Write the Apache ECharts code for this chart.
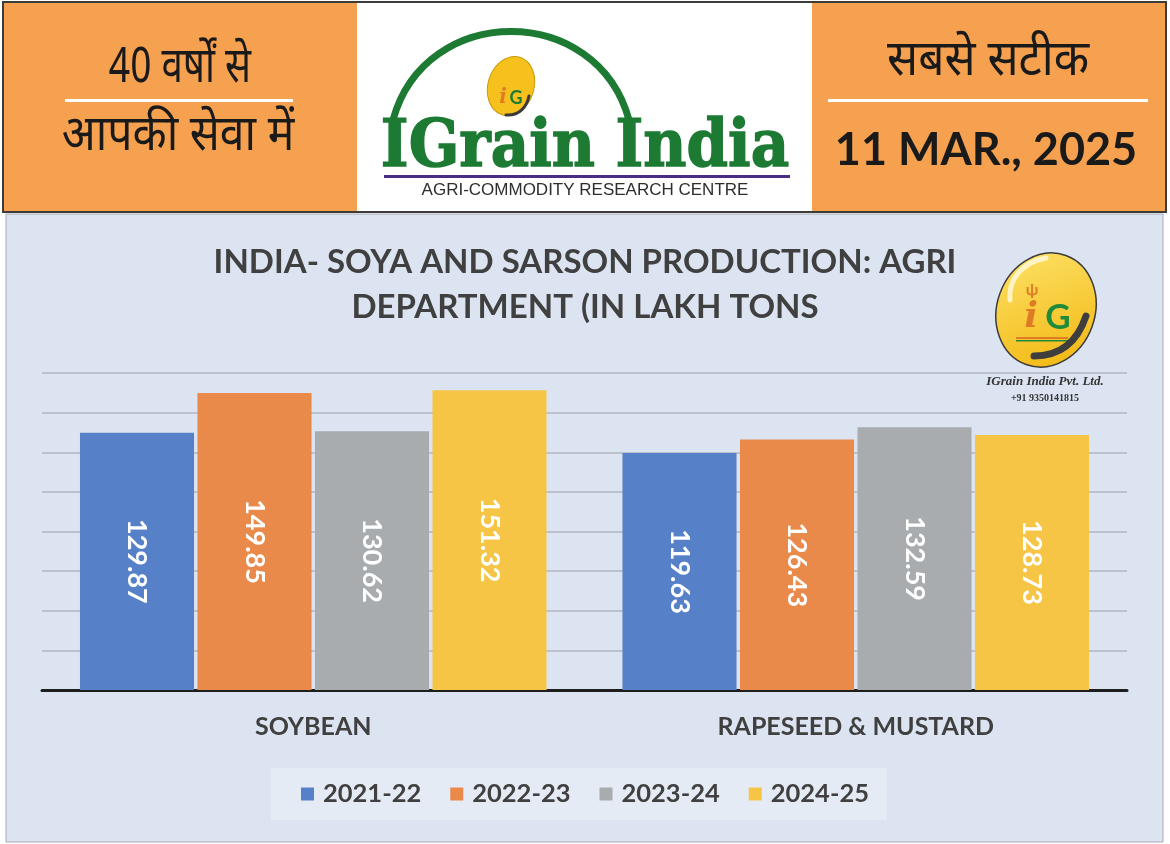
<!DOCTYPE html>
<html>
<head>
<meta charset="utf-8">
<title>India Soya and Sarson Production</title>
<script src="https://cdn.jsdelivr.net/npm/echarts@6/dist/echarts.min.js"></script>
<style>
html, body { margin: 0; padding: 0; background: #fff; }
#chart { width: 1170px; height: 844px; }
</style>
</head>
<body>
<div id="chart"></div>
<script>
// values in lakh tons
const crops = ['SOYBEAN', 'RAPESEED & MUSTARD'];
const seasons = ['2021-22', '2022-23', '2023-24', '2024-25'];
const prod2122 = [129.87, 119.63];
const prod2223 = [149.85, 126.43];
const prod2324 = [130.62, 132.59];
const prod2425 = [151.32, 128.73];
const yMin = 0;
const yMax = 160;
const yStep = 20;

const seasonColors = ['#5680c8', '#ea8a4a', '#a9acaf', '#f7c545'];
const latin = 'Lato, "Open Sans", sans-serif';
const hindi = '"Noto Sans Devanagari", "Lohit Devanagari", "Noto Sans", sans-serif';
const orange = '#f5a14f';

function txt(text, x, y, size, opts) {
    opts = opts || {};
    return {
        type: 'text',
        x: x, y: y, z: 20,
        scaleX: opts.sx || 1,
        style: {
            text: text,
            fontSize: size,
            fontFamily: opts.family || latin,
            fontWeight: opts.weight || 'normal',
            fontStyle: opts.italic ? 'italic' : 'normal',
            fill: opts.color || '#1a1a1a',
            textAlign: opts.align || 'center',
            textVerticalAlign: 'middle'
        }
    };
}

const header = [
    { type: 'rect', z: 1, shape: { x: 3, y: 2, width: 1163, height: 210 },
      style: { fill: '#fff', stroke: '#3c3c3c', lineWidth: 2 } },
    { type: 'rect', z: 2, shape: { x: 4, y: 3, width: 353, height: 208 }, style: { fill: orange } },
    { type: 'rect', z: 2, shape: { x: 812, y: 3, width: 353, height: 208 }, style: { fill: orange } },
    { type: 'rect', z: 3, shape: { x: 65, y: 99, width: 228, height: 3 }, style: { fill: '#fff' } },
    { type: 'rect', z: 3, shape: { x: 828, y: 99, width: 320, height: 3 }, style: { fill: '#fff' } },
    txt('40 वर्षों से', 180, 73, 50, { family: hindi, sx: 0.77 }),
    txt('आपकी सेवा में', 178, 141, 50, { family: hindi, sx: 0.89 }),
    txt('सबसे सटीक', 988, 66, 50, { family: hindi, sx: 0.92 }),
    txt('11 MAR., 2025', 986, 150, 45, { weight: 'bold' }),

    // centre logo
    { type: 'bezierCurve', z: 4,
      shape: { x1: 393, y1: 120, x2: 629, y2: 120, cpx1: 425, cpy1: 2, cpx2: 597, cpy2: 2 },
      style: { stroke: '#1d7a33', lineWidth: 7, fill: null } },
    { type: 'ellipse', z: 5, x: 511, y: 86, rotation: -0.3,
      shape: { cx: 0, cy: 0, rx: 23, ry: 30 },
      style: { fill: '#f6c11c', stroke: '#c99a08', lineWidth: 1 } },
    txt('i', 503, 98, 20, { weight: 'bold', color: '#e07b25', family: '"DejaVu Serif", serif', italic: true }),
    txt('G', 516, 98, 18, { weight: 'bold', color: '#1d7a33' }),
    { type: 'bezierCurve', z: 21,
      shape: { x1: 506, y1: 115, x2: 529, y2: 96, cpx1: 520, cpy1: 116, cpx2: 527, cpy2: 106 },
      style: { stroke: '#3a3a3a', lineWidth: 3, fill: null, lineCap: 'round' } },
    { type: 'text', z: 20, x: 585, y: 149, scaleX: 0.9,
      style: { text: 'IGrain India', fontSize: 66, fontWeight: 'bold', fontFamily: '"DejaVu Serif", serif',
               fill: '#1d7a33', stroke: '#1d7a33', lineWidth: 1.5, textAlign: 'center', textVerticalAlign: 'middle' } },
    { type: 'rect', z: 5, shape: { x: 384, y: 175, width: 406, height: 3 }, style: { fill: '#4a2c84' } },
    txt('AGRI-COMMODITY RESEARCH CENTRE', 585, 190, 17, { family: '"Liberation Sans", Arial, sans-serif', color: '#2e2e2e' })
];

const panel = [
    { type: 'rect', z: -10, shape: { x: 6, y: 214, width: 1157, height: 628 },
      style: { fill: '#dce4f2', stroke: '#a7abb1', lineWidth: 1 } }
];

const brand = [
    { type: 'ellipse', z: 5, x: 1046, y: 310, rotation: -0.35,
      shape: { cx: 0, cy: 0, rx: 49, ry: 58 },
      style: {
          fill: new echarts.graphic.LinearGradient(0, 0, 1, 1, [
              { offset: 0, color: '#fde46c' },
              { offset: 1, color: '#f2b40a' }
          ]),
          stroke: '#3b3b3b', lineWidth: 1.5
      } },
    { type: 'bezierCurve', z: 6,
      shape: { x1: 1010, y1: 300, x2: 1046, y2: 258, cpx1: 1008, cpy1: 280, cpx2: 1022, cpy2: 262 },
      style: { stroke: '#fff8d8', lineWidth: 5, fill: null, lineCap: 'round', opacity: 0.85 } },
    txt('ψ', 1032, 290, 16, { color: '#e07b25', weight: 'bold' }),
    txt('i', 1031, 318, 36, { weight: 'bold', color: '#e07b25', family: '"DejaVu Serif", serif', italic: true }),
    txt('G', 1058, 318, 35, { weight: 'bold', color: '#1f8a3a' }),
    { type: 'rect', z: 21, shape: { x: 1016, y: 337, width: 52, height: 2 }, style: { fill: '#e07b25' } },
    { type: 'rect', z: 21, shape: { x: 1016, y: 340, width: 52, height: 1.5 }, style: { fill: '#1f8a3a' } },
    { type: 'bezierCurve', z: 21,
      shape: { x1: 1034, y1: 356, x2: 1086, y2: 316, cpx1: 1062, cpy1: 356, cpx2: 1078, cpy2: 340 },
      style: { stroke: '#3e3e3e', lineWidth: 7, fill: null, lineCap: 'round' } },
    txt('IGrain India Pvt. Ltd.', 1045, 382, 13, { family: '"Liberation Serif", serif', weight: 'bold', italic: true, color: '#333' }),
    txt('+91 9350141815', 1045, 398, 10, { family: '"Liberation Serif", serif', weight: 'bold', color: '#333' })
];

function barSeries(name, values, color) {
    return {
        name: name,
        type: 'bar',
        data: values,
        barGap: '3%',
        barCategoryGap: '14%',
        itemStyle: { color: color },
        label: {
            show: true,
            position: 'inside',
            rotate: -90,
            align: 'center',
            verticalAlign: 'middle',
            color: '#fff',
            fontSize: 27,
            fontWeight: 'bold',
            fontFamily: latin,
            formatter: p => p.value.toFixed(2)
        }
    };
}

const chart = echarts.init(document.getElementById('chart'));
chart.setOption({
    animation: false,
    backgroundColor: '#fff',
    title: {
        text: 'INDIA- SOYA AND SARSON PRODUCTION: AGRI\nDEPARTMENT (IN LAKH TONS',
        left: 'center',
        top: 235,
        textStyle: { fontSize: 33, fontWeight: 'bold', fontFamily: latin, color: '#404040', lineHeight: 45 }
    },
    legend: {
        data: seasons,
        left: 'center',
        top: 768,
        icon: 'rect',
        itemWidth: 13,
        itemHeight: 13,
        itemGap: 29,
        padding: [13, 18, 13, 30],
        backgroundColor: '#e5ebf5',
        textStyle: { fontSize: 25.5, fontWeight: 'bold', fontFamily: latin, color: '#404040', padding: [0, 0, 0, 4] }
    },
    grid: { left: 42, right: 43, top: 373, bottom: 154 },
    xAxis: {
        type: 'category',
        data: crops,
        axisLine: { lineStyle: { color: '#1e1e1e', width: 3 } },
        axisTick: { show: false },
        axisLabel: { margin: 24, fontSize: 25, fontWeight: 'bold', fontFamily: latin, color: '#404040' }
    },
    yAxis: {
        type: 'value',
        min: yMin,
        max: yMax,
        interval: yStep,
        axisLabel: { show: false },
        axisLine: { show: false },
        axisTick: { show: false },
        splitLine: { lineStyle: { color: '#b2b7bf', width: 1.5 } }
    },
    graphic: { elements: panel.concat(header, brand) },
    series: [
        barSeries(seasons[0], prod2122, seasonColors[0]),
        barSeries(seasons[1], prod2223, seasonColors[1]),
        barSeries(seasons[2], prod2324, seasonColors[2]),
        barSeries(seasons[3], prod2425, seasonColors[3])
    ]
});
</script>
</body>
</html>
